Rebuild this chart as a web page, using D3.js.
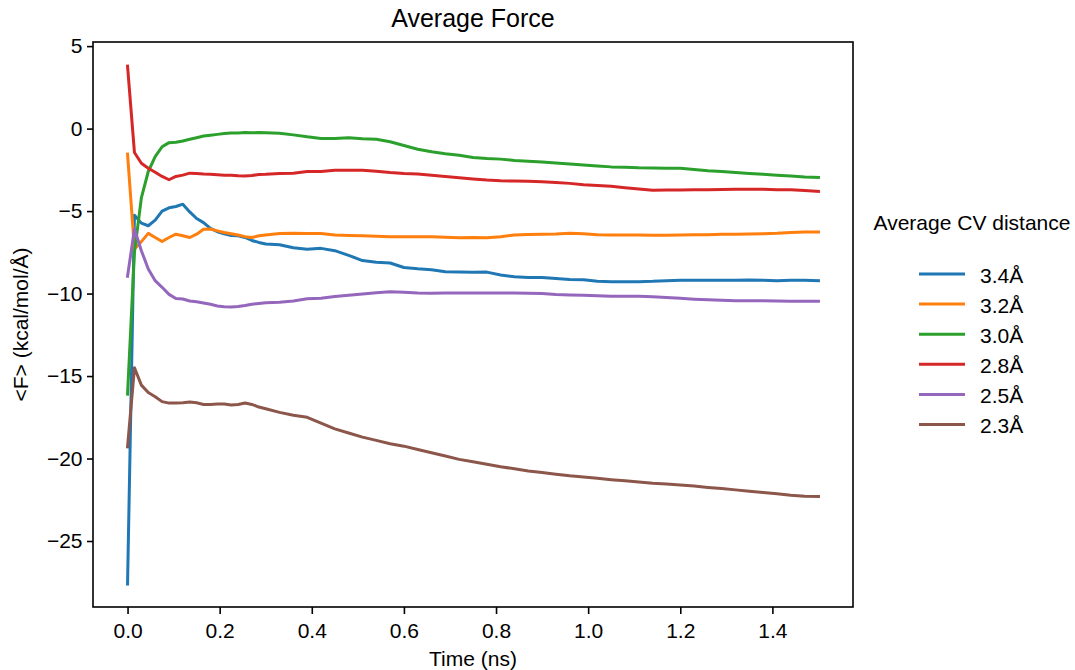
<!DOCTYPE html>
<html>
<head>
<meta charset="utf-8">
<script src="https://cdn.jsdelivr.net/npm/d3@7"></script>
<style>
  body { margin: 0; background: #fff; }
  svg { font-family: "Liberation Sans", Arial, sans-serif; }
</style>
</head>
<body>
<div id="chart"></div>
<script>
// time grid (ns): dense to 0.3, then every 0.03
let times = [0, 0.015, 0.03, 0.045, 0.06, 0.075, 0.09, 0.105, 0.12, 0.135, 0.15, 0.165, 0.18, 0.195, 0.21, 0.225, 0.24, 0.255, 0.27, 0.285, 0.3,
  0.33, 0.36, 0.39, 0.42, 0.45, 0.48, 0.51, 0.54, 0.57, 0.6, 0.63, 0.66, 0.69, 0.72, 0.75, 0.78, 0.81, 0.84, 0.87, 0.9,
  0.93, 0.96, 0.99, 1.02, 1.05, 1.08, 1.11, 1.14, 1.17, 1.2, 1.23, 1.26, 1.29, 1.32, 1.35, 1.38, 1.41, 1.44, 1.47, 1.5];

let labels = ["3.4Å", "3.2Å", "3.0Å", "2.8Å", "2.5Å", "2.3Å"];
let colors = ["#1f77b4", "#ff7f0e", "#2ca02c", "#d62728", "#9467bd", "#8c564b"];

let force34 = [-27.6, -5.25, -5.73, -5.89, -5.55, -5.0, -4.8, -4.72, -4.58, -5.05, -5.45, -5.7, -6.05, -6.25, -6.38, -6.48, -6.5, -6.6, -6.78, -6.9, -7.0,
  -7.04, -7.22, -7.32, -7.26, -7.4, -7.68, -8.0, -8.1, -8.15, -8.42, -8.5, -8.55, -8.68, -8.7, -8.71, -8.7, -8.87, -8.98, -9.02, -9.02,
  -9.08, -9.14, -9.16, -9.25, -9.28, -9.28, -9.28, -9.26, -9.22, -9.2, -9.2, -9.19, -9.19, -9.2, -9.18, -9.2, -9.22, -9.2, -9.2, -9.22];

let force32 = [-1.55, -7.3, -6.85, -6.35, -6.6, -6.84, -6.6, -6.4, -6.5, -6.6, -6.4, -6.1, -6.09, -6.2, -6.3, -6.37, -6.45, -6.55, -6.6, -6.5, -6.45,
  -6.36, -6.35, -6.36, -6.36, -6.45, -6.48, -6.5, -6.52, -6.56, -6.56, -6.55, -6.56, -6.58, -6.62, -6.6, -6.62, -6.55, -6.45, -6.42, -6.4,
  -6.39, -6.35, -6.38, -6.43, -6.45, -6.45, -6.45, -6.46, -6.46, -6.45, -6.44, -6.43, -6.41, -6.41, -6.39, -6.37, -6.35, -6.3, -6.27, -6.27];

let force30 = [-16.1, -7.5, -4.2, -2.6, -1.7, -1.1, -0.85, -0.83, -0.75, -0.65, -0.55, -0.45, -0.4, -0.35, -0.3, -0.27, -0.26, -0.24, -0.25, -0.24, -0.25,
  -0.28, -0.38, -0.5, -0.6, -0.6, -0.55, -0.62, -0.65, -0.8, -1.02, -1.25, -1.4, -1.52, -1.62, -1.75, -1.81, -1.85, -1.93, -1.98, -2.03,
  -2.09, -2.15, -2.21, -2.27, -2.32, -2.35, -2.38, -2.39, -2.4, -2.4, -2.48, -2.55, -2.6, -2.66, -2.72, -2.77, -2.83, -2.88, -2.93, -2.96];

let force28 = [3.79, -1.45, -2.1, -2.4, -2.65, -2.9, -3.1, -2.9, -2.82, -2.7, -2.72, -2.75, -2.77, -2.8, -2.83, -2.83, -2.86, -2.87, -2.84, -2.78, -2.77,
  -2.72, -2.7, -2.6, -2.6, -2.53, -2.52, -2.52, -2.58, -2.66, -2.72, -2.75, -2.83, -2.9, -2.98, -3.05, -3.12, -3.16, -3.18, -3.19, -3.22,
  -3.27, -3.32, -3.4, -3.45, -3.5, -3.58, -3.66, -3.73, -3.72, -3.72, -3.71, -3.7, -3.69, -3.67, -3.67, -3.68, -3.7, -3.71, -3.75, -3.8];

let force25 = [-8.95, -6.09, -7.4, -8.51, -9.22, -9.62, -10.05, -10.3, -10.33, -10.45, -10.5, -10.57, -10.65, -10.75, -10.8, -10.82, -10.78, -10.72, -10.65, -10.6, -10.55,
  -10.53, -10.45, -10.32, -10.28, -10.18, -10.1, -10.03, -9.95, -9.89, -9.92, -9.97, -9.98, -9.97, -9.96, -9.97, -9.96, -9.96, -9.97, -9.98, -10.0,
  -10.05, -10.08, -10.1, -10.13, -10.16, -10.17, -10.17, -10.2, -10.24, -10.29, -10.34, -10.38, -10.41, -10.43, -10.43, -10.44, -10.45, -10.47, -10.47, -10.46];

let force23 = [-19.3, -14.5, -15.55, -16.0, -16.25, -16.55, -16.64, -16.64, -16.62, -16.58, -16.62, -16.72, -16.72, -16.69, -16.7, -16.76, -16.72, -16.63, -16.72, -16.88, -16.98,
  -17.2, -17.38, -17.5, -17.85, -18.2, -18.45, -18.7, -18.9, -19.1, -19.25, -19.45, -19.65, -19.85, -20.05, -20.2, -20.35, -20.5, -20.62, -20.75, -20.85,
  -20.95, -21.05, -21.12, -21.2, -21.28, -21.35, -21.42, -21.5, -21.55, -21.6, -21.67, -21.75, -21.82, -21.9, -21.98, -22.06, -22.14, -22.22, -22.28, -22.3];

let series = [force34, force32, force30, force28, force25, force23];

let xTicks = [0, 0.2, 0.4, 0.6, 0.8, 1.0, 1.2, 1.4];
let yTicks = [5, 0, -5, -10, -15, -20, -25];

let width = 1075, height = 670;
let margin = { left: 93, right: 222, top: 42, bottom: 63 };

let svg = d3.select("#chart")
  .append("svg")
  .attr("width", width)
  .attr("height", height)
  .attr("viewBox", "0 0 " + width + " " + height);

let x = d3.scaleLinear()
  .domain([-0.075, 1.575])
  .range([margin.left, width - margin.right]);

let y = d3.scaleLinear()
  .domain([-29.0, 5.25])
  .range([height - margin.bottom, margin.top]);

let line = d3.line()
  .x((d, i) => x(times[i]))
  .y(d => y(d));

svg.append("g")
  .selectAll("path")
  .data(series)
  .enter().append("path")
    .attr("d", line)
    .attr("fill", "none")
    .attr("stroke", (d, i) => colors[i])
    .attr("stroke-width", 3)
    .attr("stroke-linejoin", "round")
    .attr("stroke-linecap", "square");

// frame
svg.append("rect")
  .attr("x", margin.left)
  .attr("y", margin.top)
  .attr("width", width - margin.right - margin.left)
  .attr("height", height - margin.bottom - margin.top)
  .attr("fill", "none")
  .attr("stroke", "#000")
  .attr("stroke-width", 1.6);

let xAxis = svg.append("g")
  .attr("transform", "translate(0," + (height - margin.bottom) + ")")
  .call(d3.axisBottom(x).tickValues(xTicks).tickFormat(d3.format(".1f")).tickSize(7).tickPadding(9));

let yAxis = svg.append("g")
  .attr("transform", "translate(" + margin.left + ",0)")
  .call(d3.axisLeft(y).tickValues(yTicks).tickFormat(d3.format("d")).tickSize(6).tickPadding(4.5));

[xAxis, yAxis].forEach(ax => {
  ax.select(".domain").remove();
  ax.selectAll("line").attr("stroke", "#000").attr("stroke-width", 1.6);
  ax.selectAll("text")
    .attr("fill", "#000")
    .style("font-size", "21px")
    .style("font-family", "'Liberation Sans', Arial, sans-serif");
});

svg.append("text")
  .attr("x", (margin.left + width - margin.right) / 2)
  .attr("y", 27)
  .attr("text-anchor", "middle")
  .style("font-size", "25px")
  .text("Average Force");

svg.append("text")
  .attr("x", (margin.left + width - margin.right) / 2)
  .attr("y", 666)
  .attr("text-anchor", "middle")
  .style("font-size", "21px")
  .text("Time (ns)");

svg.append("text")
  .attr("transform", "translate(28," + (margin.top + height - margin.bottom) / 2 + ") rotate(-90)")
  .attr("text-anchor", "middle")
  .style("font-size", "21px")
  .text("<F> (kcal/mol/Å)");

// legend
let legend = svg.append("g");

legend.append("text")
  .attr("x", 972)
  .attr("y", 230)
  .attr("text-anchor", "middle")
  .style("font-size", "21px")
  .text("Average CV distance");

let item = legend.selectAll(".item")
  .data(labels)
  .enter().append("g")
    .attr("class", "item")
    .attr("transform", (d, i) => "translate(0," + (274 + i * 30.1) + ")");

item.append("line")
  .attr("x1", 919)
  .attr("x2", 965)
  .attr("stroke", (d, i) => colors[i])
  .attr("stroke-width", 3);

item.append("text")
  .attr("x", 980)
  .attr("y", 8.5)
  .style("font-size", "21px")
  .text(d => d);
</script>
</body>
</html>
